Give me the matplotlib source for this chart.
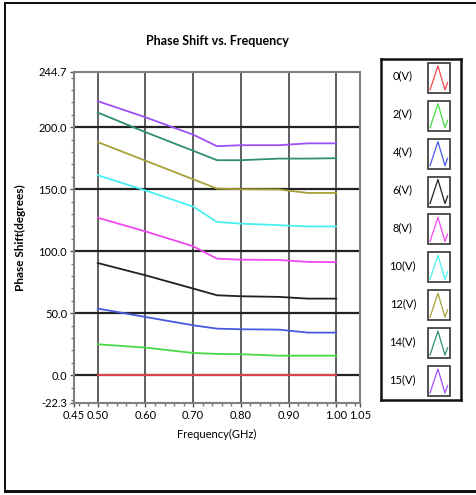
import matplotlib
matplotlib.use("Agg")
import matplotlib.pyplot as plt
from matplotlib.lines import Line2D
from matplotlib.patches import Rectangle
from matplotlib.ticker import FixedLocator, MultipleLocator

# ---------------------------------------------------------------------------
# Data
# ---------------------------------------------------------------------------
freq = [0.50, 0.60, 0.70, 0.75, 0.80, 0.88, 0.94, 1.00]

phase_0v = [0.0, 0.0, 0.0, 0.0, 0.0, 0.0, 0.0, 0.0]
phase_2v = [25.0, 22.3, 18.0, 17.2, 17.0, 15.8, 15.8, 15.8]
phase_4v = [53.8, 47.0, 40.3, 37.6, 37.1, 36.8, 34.4, 34.4]
phase_6v = [90.5, 80.6, 69.9, 64.5, 63.7, 63.2, 61.8, 61.8]
phase_8v = [127.0, 116.0, 104.0, 94.0, 93.2, 93.0, 91.4, 91.2]
phase_10v = [161.3, 149.0, 136.0, 123.6, 122.3, 121.0, 120.0, 120.0]
phase_12v = [188.0, 173.0, 158.0, 150.5, 150.0, 149.8, 147.0, 147.0]
phase_14v = [211.8, 196.0, 181.0, 173.4, 173.4, 174.7, 174.7, 175.0]
phase_15v = [221.0, 208.0, 194.0, 184.7, 185.5, 185.5, 187.0, 187.0]

series_labels = ["0(V)", "2(V)", "4(V)", "6(V)", "8(V)", "10(V)", "12(V)", "14(V)", "15(V)"]
series_values = [phase_0v, phase_2v, phase_4v, phase_6v, phase_8v,
                 phase_10v, phase_12v, phase_14v, phase_15v]
series_colors = ["#f04850", "#48d848", "#4858e0", "#202020", "#f048f0",
                 "#48f0f0", "#a8a038", "#30906a", "#a050f8"]

x_ticks = [0.45, 0.50, 0.60, 0.70, 0.80, 0.90, 1.00, 1.05]
y_ticks = [-22.3, 0.0, 50.0, 100.0, 150.0, 200.0, 244.7]
x_range = (0.45, 1.05)
y_range = (-22.3, 244.7)

plt.rcParams["font.family"] = ["Lato", "DejaVu Sans"]

fig = plt.figure(figsize=(4.77, 4.95), dpi=100)

# outer frame (left, top and bottom edges visible; right edge cut off)
for xy, w, h in [((0.008, 0.005), 0.004, 0.99), ((0.008, 0.992), 1.0, 0.004),
                 ((0.008, 0.004), 1.0, 0.006)]:
    fig.patches.append(Rectangle(xy, w, h, transform=fig.transFigure,
                                 facecolor="#111111", edgecolor="none"))

ax = fig.add_axes([0.155, 0.186, 0.600, 0.669])
ax.set_xlim(*x_range)
ax.set_ylim(*y_range)

# grid: dark lines at labelled values
for v in x_ticks[1:-1]:
    ax.axvline(v, color="#444444", lw=1.2, zorder=1)
for v in y_ticks[1:-1]:
    ax.axhline(v, color="#222222", lw=1.6, zorder=1)

for vals, col, lab in zip(series_values, series_colors, series_labels):
    ax.plot(freq, vals, color=col, lw=1.3, label=lab, zorder=3)

ax.xaxis.set_major_locator(FixedLocator(x_ticks))
ax.xaxis.set_minor_locator(MultipleLocator(0.02))
ax.yaxis.set_major_locator(FixedLocator(y_ticks))
ax.yaxis.set_minor_locator(MultipleLocator(10))
ax.set_xticklabels([f"{v:.2f}" for v in x_ticks])
ax.set_yticklabels([f"{v:.1f}" for v in y_ticks])
ax.tick_params(axis="both", which="major", labelsize=8, length=3, width=1,
               color="#555555", direction="out", pad=2)
ax.tick_params(axis="both", which="minor", length=2, width=1, color="#777777",
               direction="out")
for side in ["left", "right", "top", "bottom"]:
    ax.spines[side].set_color("#808080")
    ax.spines[side].set_linewidth(1.5)

ax.set_title("Phase Shift vs. Frequency", fontsize=9, fontweight="bold", pad=19)
ax.set_xlabel("Frequency(GHz)", fontsize=8, labelpad=6)
ax.set_ylabel("Phase Shift(degrees)", fontsize=8.5, labelpad=9,
              fontweight="bold")

# legend box on the right, drawn as its own small axes
lax = fig.add_axes([0.799, 0.192, 0.168, 0.689])
lax.set_xlim(0, 1)
lax.set_ylim(0, 1)
lax.set_xticks([])
lax.set_yticks([])
for side in lax.spines.values():
    side.set_linewidth(1.8)
    side.set_color("#111111")

n = len(series_labels)
step = 1.0 / n
wave_x = [0.0, 0.45, 0.85, 1.0]
wave_y = [0.1, 0.9, 0.1, 0.35]
for i, (lab, col) in enumerate(zip(series_labels, series_colors)):
    yc = 1 - step * (i + 0.5)
    lax.text(0.27, yc + 0.005, lab, ha="center", va="center", fontsize=8)
    bx, bw, bh = 0.58, 0.28, 0.088
    lax.add_patch(Rectangle((bx, yc - bh / 2), bw, bh, facecolor="white",
                            edgecolor="#333333", lw=1.2))
    lax.add_line(Line2D([bx + 0.03 + wx * (bw - 0.06) for wx in wave_x],
                        [yc - bh / 2 + wy * bh for wy in wave_y],
                        color=col, lw=0.9))

fig.savefig("out.png", dpi=100)
